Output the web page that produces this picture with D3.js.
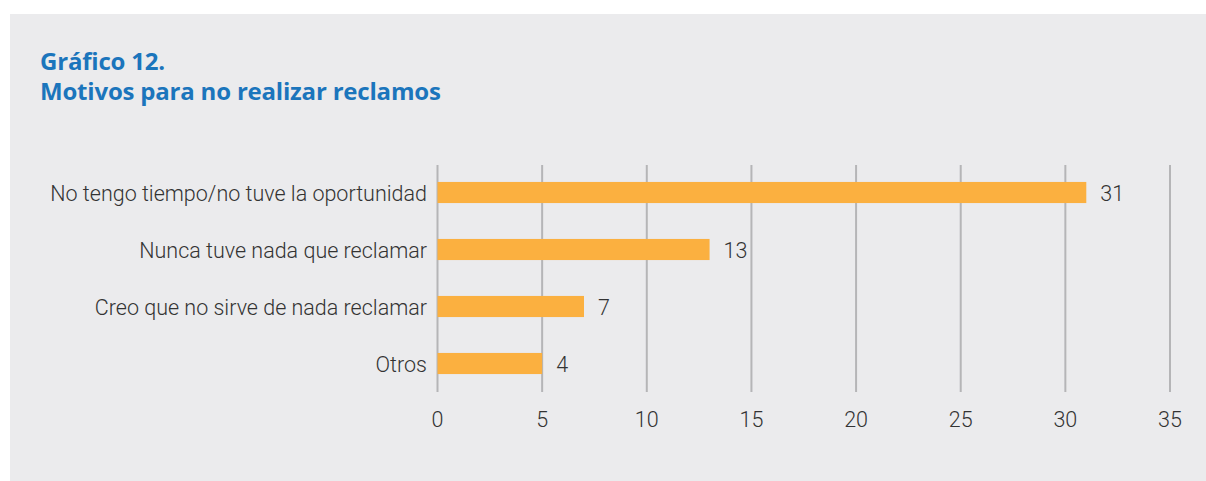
<!DOCTYPE html>
<html>
<head>
<meta charset="utf-8">
<script src="https://cdn.jsdelivr.net/npm/d3@7"></script>
<style>
  body { margin: 0; background: #fff; }
  svg { display: block; }
  .title { font-family: "Open Sans", "Noto Sans", sans-serif; font-weight: 700; fill: #1b75bc; font-size: 24px; letter-spacing: -0.2px; }
  .lbl { font-family: Roboto, "Noto Sans", sans-serif; font-weight: 300; fill: #333; font-size: 21.5px; }
</style>
</head>
<body>
<div id="chart"></div>
<script>
const categories = [
    'No tengo tiempo/no tuve la oportunidad',
    'Nunca tuve nada que reclamar',
    'Creo que no sirve de nada reclamar',
    'Otros'
];
// bar lengths as drawn in the picture
const barValues = [31, 13, 7, 5];
// the numbers printed next to the bars
const valueLabels = ['31', '13', '7', '4'];
const xTicks = [0, 5, 10, 15, 20, 25, 30, 35];
const titleLines = ['Gráfico 12.', 'Motivos para no realizar reclamos'];

const dim = { width: 1206, height: 481 };

const svg = d3.select('#chart')
    .append('svg')
        .attr('width', dim.width)
        .attr('height', dim.height);

// grey panel
svg.append('rect')
    .attr('x', 10)
    .attr('y', 14)
    .attr('width', dim.width - 10)
    .attr('height', dim.height - 14)
    .attr('fill', '#ebebed');

svg.selectAll('.title')
    .data(titleLines)
    .enter()
    .append('text')
        .attr('class', 'title')
        .attr('x', 40)
        .attr('y', (d, i) => 70 + i * 30)
        .text(d => d);

const x = d3.scaleLinear()
    .domain([0, 35])
    .range([437.5, 1170]);

const y = d3.scaleBand()
    .domain(categories)
    .range([164, 392])
    .paddingInner(0.63)
    .paddingOuter(0.315);

const g = svg.append('g');

// vertical gridlines
g.selectAll('.grid')
    .data(xTicks)
    .enter()
    .append('line')
        .attr('x1', d => x(d))
        .attr('x2', d => x(d))
        .attr('y1', 165)
        .attr('y2', 392)
        .attr('stroke', '#b5b5b7')
        .attr('stroke-width', 2);

// x tick labels
g.selectAll('.xtick')
    .data(xTicks)
    .enter()
    .append('text')
        .attr('class', 'lbl')
        .attr('x', d => x(d))
        .attr('y', 427)
        .attr('text-anchor', 'middle')
        .text(d => d);

// bars
g.selectAll('.bar')
    .data(categories)
    .enter()
    .append('rect')
        .attr('x', x(0))
        .attr('y', d => y(d))
        .attr('width', (d, i) => x(barValues[i]) - x(0))
        .attr('height', y.bandwidth())
        .attr('fill', '#fbb040');

// category labels
g.selectAll('.cat')
    .data(categories)
    .enter()
    .append('text')
        .attr('class', 'lbl')
        .attr('x', 427)
        .attr('y', d => y(d) + y.bandwidth() / 2 + 8)
        .attr('text-anchor', 'end')
        .text(d => d);

// value labels
g.selectAll('.val')
    .data(categories)
    .enter()
    .append('text')
        .attr('class', 'lbl')
        .attr('x', (d, i) => x(barValues[i]) + 14)
        .attr('y', d => y(d) + y.bandwidth() / 2 + 8)
        .text((d, i) => valueLabels[i]);
</script>
</body>
</html>
